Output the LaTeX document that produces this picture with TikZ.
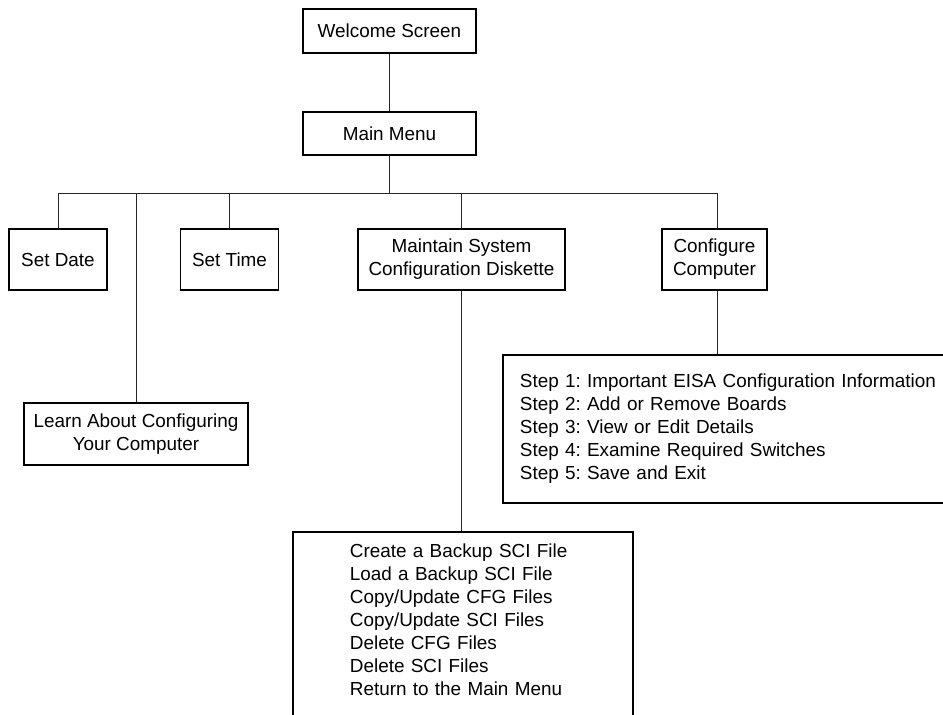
\documentclass[tikz,border=0pt]{standalone}
\usepackage{fontspec}
\setmainfont{Liberation Sans}
\begin{document}
\frenchspacing
\begin{tikzpicture}[x=1pt,y=-1pt,
  box/.style={draw=black, line width=1.8pt, fill=white, inner sep=0pt, align=center,
    font=\fontsize{18.9}{23}\selectfont\frenchspacing},
  conn/.style={draw=black!85, line width=0.9pt}]
\useasboundingbox (0,0) rectangle (943,715);
\clip (0,0) rectangle (943,715);

\node[box, minimum width=173pt, minimum height=44pt] (welcome) at (389.5,31) {Welcome Screen};
\node[box, minimum width=173pt, minimum height=43pt] (main) at (389.5,133.5) {Main Menu};
\node[box, minimum width=98pt, minimum height=61pt] (setdate) at (58,259.5) {Set Date};
\node[box, minimum width=98pt, minimum height=61pt] (settime) at (229.5,259.5) {Set Time};
\node[box, minimum width=207pt, minimum height=61pt] (maintain) at (461.5,259.5) {Maintain System\\Configuration Diskette};
\node[box, minimum width=105pt, minimum height=61pt] (configure) at (714.5,259.5) {Configure\\Computer};
\node[box, minimum width=224pt, minimum height=62pt] (learn) at (136,434) {Learn About Configuring\\Your Computer};

\node[box, align=left, text width=500pt, inner xsep=17pt, minimum height=148pt, anchor=north west] (steps) at (502,354)
 {Step 1: Important EISA Configuration Information\\
  Step 2: Add or Remove Boards\\
  Step 3: View or Edit Details\\
  Step 4: Examine Required Switches\\
  Step 5: Save and Exit};

\node[box, align=left, text width=226pt, inner xsep=57pt, inner ysep=12pt, anchor=north west] (sci) at (292,531)
 {Create a Backup SCI File\\
  Load a Backup SCI File\\
  Copy/Update CFG Files\\
  Copy/Update SCI Files\\
  Delete CFG Files\\
  Delete SCI Files\\
  Return to the Main Menu\\[40pt]\mbox{}};

\coordinate (bus) at (389.5,193);
\draw[conn] (welcome) -- (main);
\draw[conn] (main) -- (bus);
\draw[conn] (bus) -| (setdate.north);
\draw[conn] (bus) -| (learn.north);
\draw[conn] (bus) -| (settime.north);
\draw[conn] (bus) -| (maintain.north);
\draw[conn] (bus) -| ([xshift=2.5pt]configure.north);
\draw[conn] (maintain.south) -- (maintain.south |- sci.north);
\draw[conn] ([xshift=2.5pt]configure.south) -- ([xshift=2.5pt]configure.south |- steps.north);
\end{tikzpicture}
\end{document}
